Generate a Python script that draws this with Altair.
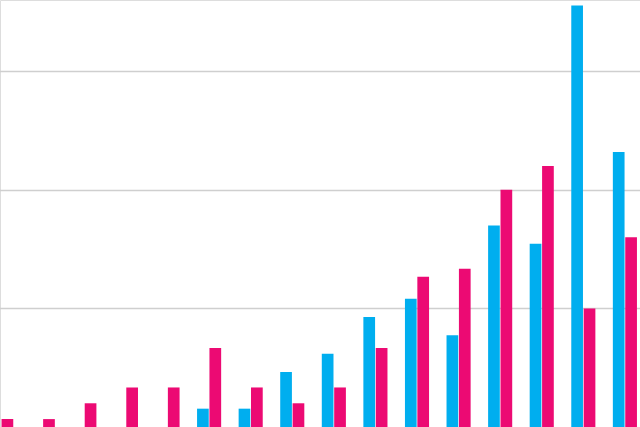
import altair as alt
import pandas as pd

groups = [f"G{i:02d}" for i in range(1, 17)]
series_a = [0, 0, 0, 0, 0, 1, 1, 3, 4, 6, 7, 5, 11, 10, 23, 15]          # blue (own scale)
series_b = [1, 1, 3, 5, 5, 10, 5, 3, 5, 10, 19, 20, 30, 33, 15, 24]      # pink (gridded scale)
grid_values = [15, 30, 45]

rows = []
for g, a, b in zip(groups, series_a, series_b):
    rows.append({"group": g, "series": "A", "value": a})
    rows.append({"group": g, "series": "B", "value": b})
df = pd.DataFrame(rows)

blue = "#00aeef"
pink = "#ec0a73"

x_enc = alt.X("group:N", axis=None,
              scale=alt.Scale(range=[-19.59, 645.69], paddingInner=0, paddingOuter=0))
xo_enc = alt.XOffset("series:N",
                     scale=alt.Scale(domain=["A", "B"], paddingInner=0.056, paddingOuter=0.705))

base = alt.Chart(df)

layer_a = base.transform_filter(alt.datum.series == "A").mark_bar(color=blue).encode(
    x=x_enc,
    xOffset=xo_enc,
    y=alt.Y("value:Q", axis=None, scale=alt.Scale(domain=[0, 23.3], nice=False, zero=True)),
)

layer_b = base.transform_filter(alt.datum.series == "B").mark_bar(color=pink).encode(
    x=x_enc,
    xOffset=xo_enc,
    y=alt.Y("value:Q",
            scale=alt.Scale(domain=[0, 54.0], nice=False, zero=True),
            axis=alt.Axis(values=grid_values, grid=True, labels=False, ticks=False,
                          domain=False, title=None, gridColor="#cfcfcf", gridWidth=1.5)),
)

chart = alt.layer(layer_a, layer_b).resolve_scale(y="independent").properties(
    width=640, height=427, padding=0,
    autosize=alt.AutoSizeParams(type="none"),
).configure_view(stroke=None, strokeWidth=0, strokeOpacity=0).configure(background="white")

chart.save("out.html", embed_options={"renderer": "svg", "actions": False})
